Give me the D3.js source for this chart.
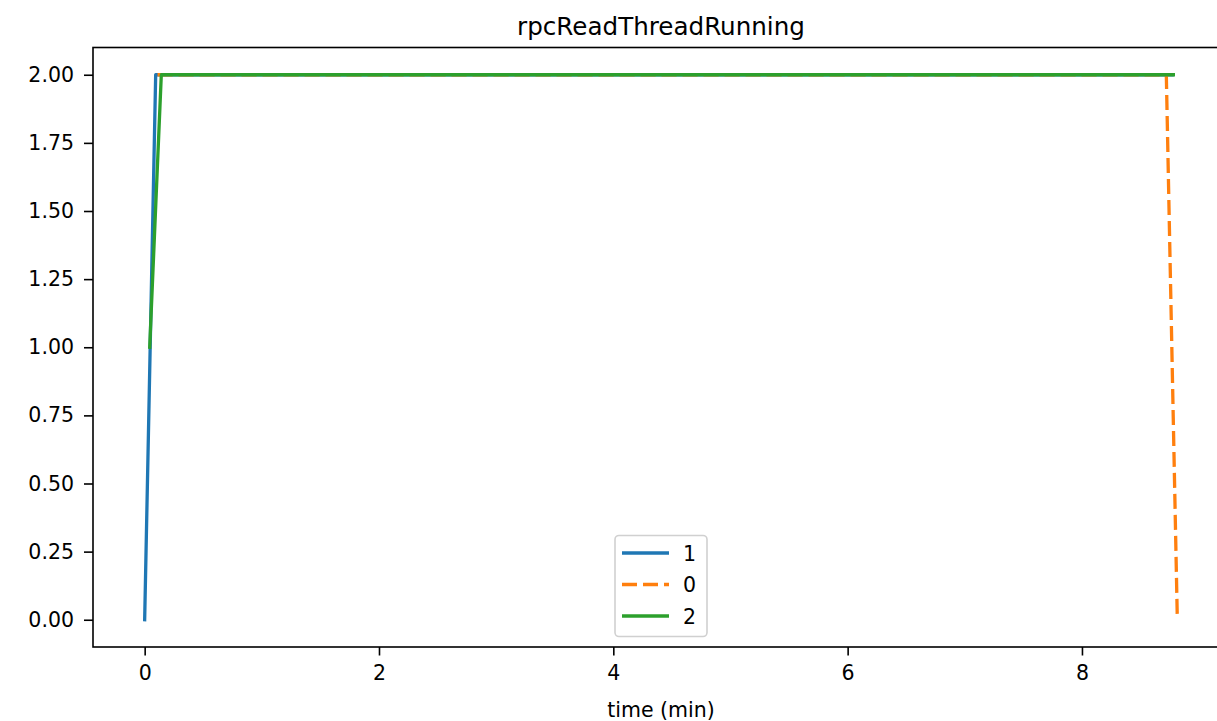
<!DOCTYPE html>
<html>
<head>
<meta charset="utf-8">
<script src="https://cdn.jsdelivr.net/npm/d3@7"></script>
<style>
  html, body { margin: 0; padding: 0; background: #fff; }
  svg { display: block; }
  text { font-family: "DejaVu Sans", sans-serif; fill: #000; }
</style>
</head>
<body>
<svg id="chart" width="1217" height="721"></svg>
<script>
// ---- data ----
const title = "rpcReadThreadRunning";
const xLabel = "time (min)";
const seriesNames = ["1", "0", "2"];
const seriesColors = ["#1f77b4", "#ff7f0e", "#2ca02c"];
const seriesDashed = [false, true, false];
const time1 = [0, 0.094, 8.77];
const vals1 = [0, 2, 2];
const time0 = [0.11, 8.72, 8.814];
const vals0 = [2, 2, 0];
const time2 = [0.043, 0.142, 8.78];
const vals2 = [1, 2, 2];
const xTicks = [0, 2, 4, 6, 8];
const yTicks = [0, 0.25, 0.5, 0.75, 1.0, 1.25, 1.5, 1.75, 2.0];

const seriesTimes = [time1, time0, time2];
const seriesVals = [vals1, vals0, vals2];

// ---- layout ----
const svg = d3.select("#chart");
const mLeft = 93, mRight = 1229, mTop = 47.5, mBottom = 647;
const fs = 20.5;

const x = d3.scaleLinear().domain([-0.441, 9.255]).range([mLeft, mRight]);
const y = d3.scaleLinear().domain([-0.1, 2.1]).range([mBottom, mTop]);

// lines
const line = d3.line().x(d => x(d[0])).y(d => y(d[1]));
seriesNames.forEach((name, i) => {
  const pts = seriesTimes[i].map((t, j) => [t, seriesVals[i][j]]);
  svg.append("path")
    .datum(pts)
    .attr("d", line)
    .attr("fill", "none")
    .attr("stroke", seriesColors[i])
    .attr("stroke-width", 3.3)
    .attr("stroke-linecap", seriesDashed[i] ? "butt" : "square")
    .attr("stroke-linejoin", "round")
    .attr("stroke-dasharray", seriesDashed[i] ? "15,6" : null);
});

// axes
const xAxis = d3.axisBottom(x).tickValues(xTicks).tickFormat(d3.format("d")).tickSize(8.5).tickPadding(9.5);
const yAxis = d3.axisLeft(y).tickValues(yTicks).tickFormat(d3.format(".2f")).tickSize(9).tickPadding(10);

const gx = svg.append("g").attr("transform", `translate(0,${mBottom})`).call(xAxis);
const gy = svg.append("g").attr("transform", `translate(${mLeft},0)`).call(yAxis);
[gx, gy].forEach(g => {
  g.select(".domain").remove();
  g.selectAll(".tick line").attr("stroke", "#000").attr("stroke-width", 1.6);
  g.selectAll(".tick text").attr("font-size", fs).attr("font-family", "DejaVu Sans, sans-serif").attr("fill", "#000");
});

// spines
svg.append("rect")
  .attr("x", mLeft).attr("y", mTop)
  .attr("width", mRight - mLeft).attr("height", mBottom - mTop)
  .attr("fill", "none").attr("stroke", "#000").attr("stroke-width", 1.6);

// title & label
svg.append("text")
  .attr("x", (mLeft + mRight) / 2).attr("y", 35)
  .attr("text-anchor", "middle").attr("font-size", 24.6)
  .text(title);
svg.append("text")
  .attr("x", (mLeft + mRight) / 2).attr("y", 717)
  .attr("text-anchor", "middle").attr("font-size", fs)
  .text(xLabel);

// legend
const lg = svg.append("g");
lg.append("rect")
  .attr("x", 615).attr("y", 535.5).attr("width", 92).attr("height", 101)
  .attr("rx", 4).attr("fill", "#fff").attr("fill-opacity", 0.8)
  .attr("stroke", "#d0d0d0").attr("stroke-width", 1.6);
seriesNames.forEach((name, i) => {
  const yy = 553 + i * 31.5;
  lg.append("line")
    .attr("x1", 622).attr("x2", 669).attr("y1", yy).attr("y2", yy)
    .attr("stroke", seriesColors[i]).attr("stroke-width", 3.3)
    .attr("stroke-dasharray", seriesDashed[i] ? "15,6" : null);
  lg.append("text")
    .attr("x", 683).attr("y", yy + 7.5)
    .attr("font-size", fs)
    .text(name);
});
</script>
</body>
</html>
